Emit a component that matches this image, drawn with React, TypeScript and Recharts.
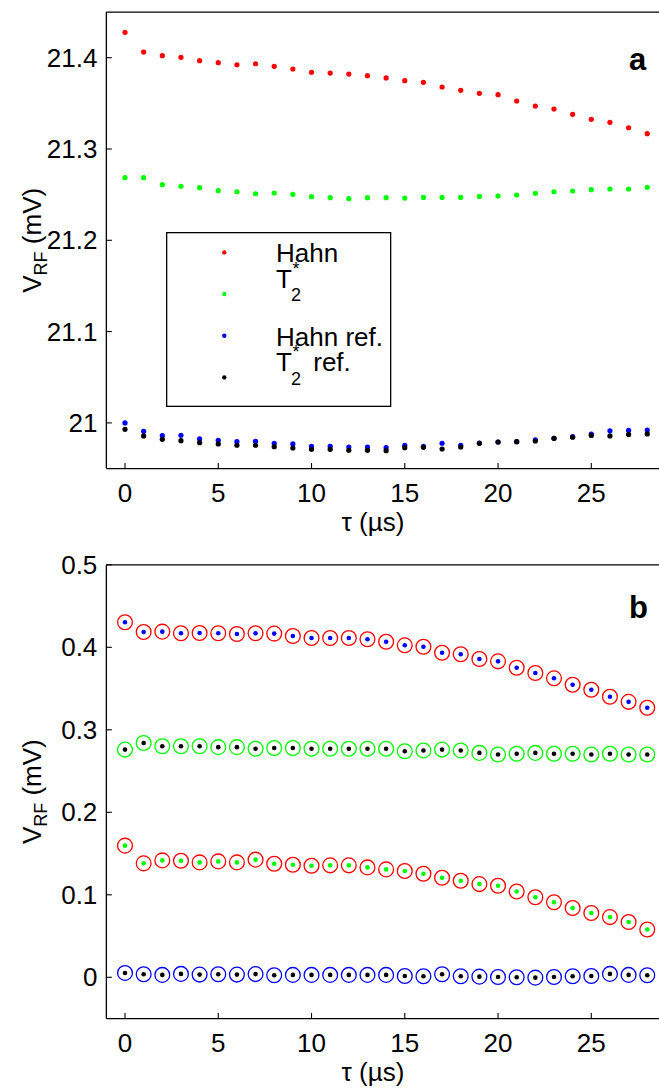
import React from 'react';
import { ScatterChart, Scatter, XAxis, YAxis, Legend, Customized } from 'recharts';

// delay tau (µs)
const tau = [0, 1, 2, 3, 4, 5, 6, 7, 8, 9, 10, 11, 12, 13, 14, 15, 16, 17, 18, 19, 20, 21, 22, 23, 24, 25, 26, 27, 28];

// panel a: raw RF levels (mV)
const hahnA = [21.4278, 21.4062, 21.4022, 21.4004, 21.3967, 21.3945, 21.3923, 21.3934, 21.3906, 21.3876, 21.384, 21.3832, 21.3821, 21.3803, 21.3778, 21.3748, 21.373, 21.3679, 21.3643, 21.361, 21.3595, 21.3526, 21.3471, 21.3438, 21.338, 21.3325, 21.3292, 21.3233, 21.3168];
const t2A = [21.2686, 21.2686, 21.2609, 21.2591, 21.2576, 21.2543, 21.2532, 21.251, 21.2518, 21.2504, 21.2478, 21.2467, 21.2456, 21.2467, 21.2467, 21.2463, 21.247, 21.247, 21.247, 21.2481, 21.2485, 21.2496, 21.2515, 21.2532, 21.254, 21.2554, 21.2562, 21.2562, 21.258];
const hahnRefA = [21.0, 20.9908, 20.986, 20.9864, 20.9824, 20.981, 20.9794, 20.9798, 20.9777, 20.977, 20.9744, 20.9744, 20.9736, 20.9736, 20.9729, 20.9755, 20.9744, 20.9777, 20.9755, 20.978, 20.9791, 20.9794, 20.9813, 20.9831, 20.9849, 20.9878, 20.9914, 20.9918, 20.9922];
const t2RefA = [20.993, 20.9857, 20.982, 20.9805, 20.9783, 20.977, 20.9755, 20.9755, 20.974, 20.9725, 20.9711, 20.9711, 20.97, 20.97, 20.9696, 20.9729, 20.9733, 20.9714, 20.9736, 20.9776, 20.9791, 20.9794, 20.9802, 20.9831, 20.9843, 20.9863, 20.9857, 20.9872, 20.9879];

// panel b: differences (mV)
const hahnB = [0.4304, 0.4186, 0.419, 0.417, 0.4174, 0.417, 0.4162, 0.417, 0.4166, 0.4137, 0.4113, 0.4113, 0.4113, 0.4097, 0.4068, 0.4024, 0.4007, 0.3934, 0.3915, 0.3858, 0.383, 0.3752, 0.3688, 0.3624, 0.3546, 0.3485, 0.34, 0.3339, 0.3267];
const t2B = [0.276, 0.284, 0.28, 0.28, 0.28, 0.279, 0.279, 0.277, 0.278, 0.278, 0.277, 0.277, 0.277, 0.277, 0.277, 0.274, 0.275, 0.276, 0.275, 0.272, 0.27, 0.271, 0.272, 0.271, 0.271, 0.27, 0.271, 0.27, 0.27];
const diffB = [0.1596, 0.1381, 0.1417, 0.1413, 0.1393, 0.1405, 0.1393, 0.1426, 0.1377, 0.1365, 0.1352, 0.1357, 0.1357, 0.1332, 0.1308, 0.1288, 0.1255, 0.1207, 0.117, 0.113, 0.111, 0.104, 0.097, 0.091, 0.084, 0.078, 0.073, 0.067, 0.058];
const refDiffB = [0.0053, 0.0037, 0.0029, 0.0041, 0.0033, 0.0037, 0.0033, 0.0039, 0.0025, 0.0029, 0.0029, 0.0029, 0.0029, 0.0029, 0.0029, 0.0016, 0.0012, 0.0037, 0.0012, 0.0008, 0.0004, 0.0, -0.0004, 0.0004, 0.0012, 0.0016, 0.0041, 0.0029, 0.0025];

const xTicks = [0, 5, 10, 15, 20, 25];
const yTicksA = [21, 21.1, 21.2, 21.3, 21.4];
const yTicksB = [0, 0.1, 0.2, 0.3, 0.4, 0.5];
const legendOrder = ['Hahn', 'T2*', 'Hahn ref.', 'T2* ref.'];

const FONT = '"Liberation Sans", Arial, Helvetica, sans-serif';
const FS = 26;
const TICK = 5.5;

const rows = (ys: number[]) => tau.map((t, i) => ({ tau: t, v: ys[i] }));

const dot = (props: any) => <circle cx={props.cx} cy={props.cy} r={2.6} fill={props.fill} />;

const ringDot = (ring: string, core: string) => (props: any) => (
  <g>
    <circle cx={props.cx} cy={props.cy} r={7.4} fill="none" stroke={ring} strokeWidth={1.3} />
    <circle cx={props.cx} cy={props.cy} r={2.3} fill={core} />
  </g>
);

const BottomTick = (props: any) => {
  const { x, y, payload } = props;
  return (
    <g>
      <line x1={x} x2={x} y1={y} y2={y - TICK} stroke="#000" strokeWidth={1.1} />
      <text x={x} y={y + 33} textAnchor="middle" fontSize={FS} fontFamily={FONT} fill="#000">
        {payload.value}
      </text>
    </g>
  );
};

const TopTick = (props: any) => (
  <line x1={props.x} x2={props.x} y1={props.y} y2={props.y + TICK} stroke="#000" strokeWidth={1.1} />
);

const LeftTick = (props: any) => {
  const { x, y, payload } = props;
  return (
    <g>
      <line x1={x} x2={x + TICK} y1={y} y2={y} stroke="#000" strokeWidth={1.1} />
      <text x={x - 9} y={y + 9} textAnchor="end" fontSize={FS} fontFamily={FONT} fill="#000">
        {payload.value}
      </text>
    </g>
  );
};

const YTitle = (props: any) => {
  const vb = props.viewBox;
  const cy = vb.y + vb.height / 2;
  const bx = 41;
  return (
    <text
      x={bx}
      y={cy}
      transform={`rotate(-90, ${bx}, ${cy})`}
      textAnchor="middle"
      fontSize={FS}
      fontFamily={FONT}
      fill="#000"
    >
      <tspan>V</tspan>
      <tspan dy={6} fontSize={18}>RF</tspan>
      <tspan dy={-6}> (mV)</tspan>
    </text>
  );
};

const XTitle = (props: any) => {
  const vb = props.viewBox;
  return (
    <text x={373} y={vb.y + 62.5} textAnchor="middle" fontSize={FS} fontFamily={FONT} fill="#000">
      τ (µs)
    </text>
  );
};

const PanelTag = ({ x, y, text }: { x: number; y: number; text: string }) => (
  <text x={x} y={y} fontSize={31} fontWeight="bold" fontFamily={FONT} fill="#000">
    {text}
  </text>
);

// legend rows: marker y, label baseline
const legendRows = [
  { my: 20.4, ty: 30 },
  { my: 62, ty: 56 },
  { my: 103.7, ty: 114.4 },
  { my: 145.4, ty: 139.4 },
];

const LegendLabel = ({ name, y }: { name: string; y: number }) => {
  if (name.startsWith('T2*')) {
    const rest = name.slice(3);
    return (
      <g fontFamily={FONT} fill="#000">
        <text x={110} y={y} fontSize={FS}>T</text>
        <text x={125} y={y + 13.4} fontSize={18}>2</text>
        <text x={126.5} y={y - 13} fontSize={18}>*</text>
        {rest && <text x={140} y={y} fontSize={FS} xmlSpace="preserve">{rest}</text>}
      </g>
    );
  }
  return (
    <text x={110} y={y} fontSize={FS} fontFamily={FONT} fill="#000">
      {name}
    </text>
  );
};

const LegendBox = (props: any) => {
  const items = props.payload || [];
  const ordered = legendOrder
    .map((n) => items.find((it: any) => it.value === n))
    .filter(Boolean);
  return (
    <svg width={226} height={176} style={{ display: 'block' }}>
      <rect x={0.65} y={0.65} width={224} height={173.7} fill="#fff" stroke="#000" strokeWidth={1.3} />
      {ordered.map((it: any, i: number) => (
        <g key={i}>
          <circle cx={58.3} cy={legendRows[i].my} r={2.2} fill={it.color} />
          <LegendLabel name={String(it.value)} y={legendRows[i].ty} />
        </g>
      ))}
    </svg>
  );
};

const App: React.FC = () => {
  return (
    <div style={{ position: 'absolute', left: 0, top: 0, width: 659, height: 1088, overflow: 'hidden', background: '#fff' }}>
      <div style={{ position: 'absolute', left: 0, top: 0 }}>
        <ScatterChart width={700} height={540} margin={{ top: 11.05, right: 34.1, bottom: 11.45, left: 0 }}>
          <XAxis
            dataKey="tau"
            type="number"
            domain={[-1, 29]}
            ticks={xTicks}
            interval={0}
            allowDataOverflow
            height={60}
            tickSize={0}
            tickMargin={0}
            tickLine={false}
            tick={<BottomTick />}
            axisLine={{ stroke: '#000', strokeWidth: 1.3 }}
            label={{ content: <XTitle /> }}
          />
          <XAxis
            xAxisId="top"
            orientation="top"
            type="number"
            domain={[-1, 29]}
            ticks={xTicks}
            interval={0}
            allowDataOverflow
            height={1}
            tickSize={0}
            tickMargin={0}
            tickLine={false}
            tick={<TopTick />}
            axisLine={{ stroke: '#000', strokeWidth: 1.3 }}
          />
          <YAxis
            dataKey="v"
            type="number"
            domain={[20.95, 21.45]}
            ticks={yTicksA}
            interval={0}
            allowDataOverflow
            width={106.35}
            tickSize={0}
            tickMargin={0}
            tickLine={false}
            tick={<LeftTick />}
            axisLine={{ stroke: '#000', strokeWidth: 1.3 }}
            label={{ content: <YTitle /> }}
          />
          <Scatter name="Hahn" data={rows(hahnA)} fill="#ff0000" shape={dot} isAnimationActive={false} />
          <Scatter name="T2*" data={rows(t2A)} fill="#00ff00" shape={dot} isAnimationActive={false} />
          <Scatter name="Hahn ref." data={rows(hahnRefA)} fill="#0000ff" shape={dot} isAnimationActive={false} />
          <Scatter name="T2* ref." data={rows(t2RefA)} fill="#000000" shape={dot} isAnimationActive={false} />
          <Legend
            layout="horizontal"
            verticalAlign="middle"
            align="center"
            content={<LegendBox />}
            wrapperStyle={{ position: 'absolute', left: 166, top: 232, width: 226, height: 176 }}
          />
          <Customized component={<PanelTag x={629} y={70} text="a" />} />
        </ScatterChart>
      </div>
      <div style={{ position: 'absolute', left: 0, top: 545 }}>
        <ScatterChart width={700} height={543} margin={{ top: 18.8, right: 34.1, bottom: 9.45, left: 0 }}>
          <XAxis
            dataKey="tau"
            type="number"
            domain={[-1, 29]}
            ticks={xTicks}
            interval={0}
            allowDataOverflow
            height={60}
            tickSize={0}
            tickMargin={0}
            tickLine={false}
            tick={<BottomTick />}
            axisLine={{ stroke: '#000', strokeWidth: 1.3 }}
            label={{ content: <XTitle /> }}
          />
          <XAxis
            xAxisId="top"
            orientation="top"
            type="number"
            domain={[-1, 29]}
            ticks={xTicks}
            interval={0}
            allowDataOverflow
            height={1}
            tickSize={0}
            tickMargin={0}
            tickLine={false}
            tick={<TopTick />}
            axisLine={{ stroke: '#000', strokeWidth: 1.3 }}
          />
          <YAxis
            dataKey="v"
            type="number"
            domain={[-0.05, 0.5]}
            ticks={yTicksB}
            interval={0}
            allowDataOverflow
            width={106.35}
            tickSize={0}
            tickMargin={0}
            tickLine={false}
            tick={<LeftTick />}
            axisLine={{ stroke: '#000', strokeWidth: 1.3 }}
            label={{ content: <YTitle /> }}
          />
          <Scatter name="Hahn" data={rows(hahnB)} shape={ringDot('#ff0000', '#0000ff')} isAnimationActive={false} />
          <Scatter name="T2*" data={rows(t2B)} shape={ringDot('#00ff00', '#000000')} isAnimationActive={false} />
          <Scatter name="Hahn - T2*" data={rows(diffB)} shape={ringDot('#ff0000', '#00ff00')} isAnimationActive={false} />
          <Scatter name="ref." data={rows(refDiffB)} shape={ringDot('#0000ff', '#000000')} isAnimationActive={false} />
          <Customized component={<PanelTag x={629} y={73.3} text="b" />} />
        </ScatterChart>
      </div>
    </div>
  );
};

export default App;
